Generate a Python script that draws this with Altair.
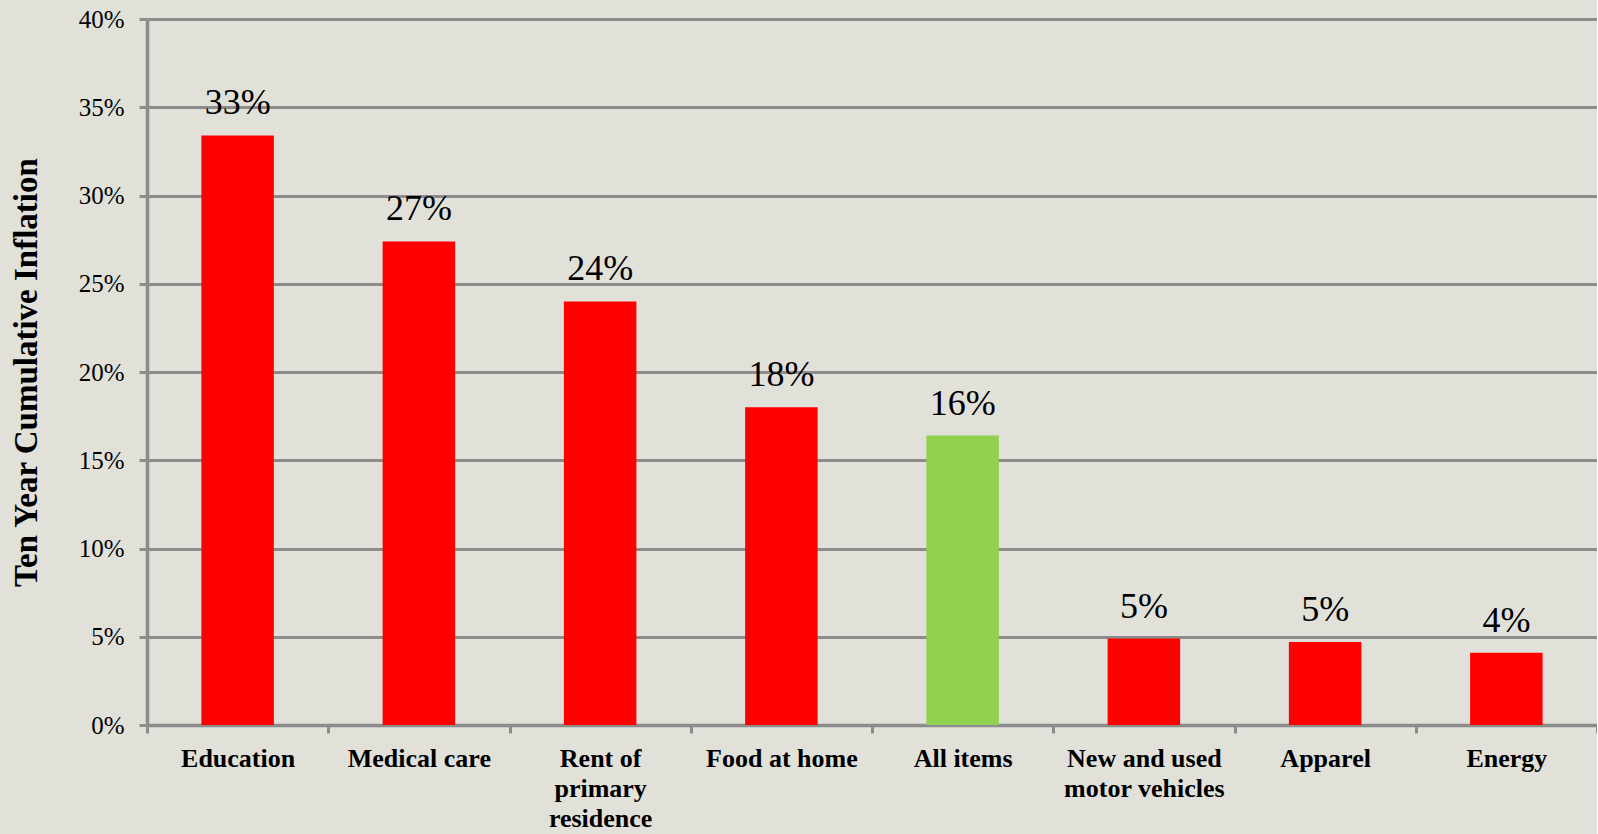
import altair as alt
import pandas as pd

# ---- data ----
categories = [
    "Education",
    "Medical care",
    "Rent of|primary|residence",
    "Food at home",
    "All items",
    "New and used|motor vehicles",
    "Apparel",
    "Energy",
]
values = [0.334, 0.274, 0.240, 0.180, 0.164, 0.049, 0.047, 0.041]
kinds = ["Component", "Component", "Component", "Component",
         "All items", "Component", "Component", "Component"]
y_ticks = [0, 0.05, 0.10, 0.15, 0.20, 0.25, 0.30, 0.35, 0.40]

df = pd.DataFrame({"category": categories, "value": values, "kind": kinds})

GRID = "#8c8c8c"
FONT = "Liberation Serif"

x_enc = alt.X(
    "category:N",
    sort=None,
    scale=alt.Scale(paddingInner=0, paddingOuter=0),
    axis=alt.Axis(
        title=None,
        labelAngle=0,
        tickBand="extent",
        labelExpr="split(datum.label, '|')",
        labelFont=FONT,
        labelFontWeight="bold",
        labelFontSize=26,
        labelColor="black",
        labelLineHeight=30,
        labelPadding=12,
        labelLimit=400,
        labelOverlap=False,
        tickSize=8,
        tickWidth=3,
        tickColor=GRID,
        domainColor=GRID,
        domainWidth=3.5,
        grid=False,
    ),
)

y_enc = alt.Y(
    "value:Q",
    scale=alt.Scale(domain=[0, 0.4], nice=False),
    axis=alt.Axis(
        title="Ten Year Cumulative Inflation",
        values=y_ticks,
        format=".0%",
        labelFont=FONT,
        labelFontSize=25,
        labelColor="black",
        labelPadding=15,
        tickSize=8,
        tickWidth=3,
        tickColor=GRID,
        domainColor=GRID,
        domainWidth=3.5,
        grid=True,
        gridColor=GRID,
        gridWidth=3,
        gridOpacity=1,
        titleFont=FONT,
        titleFontWeight="bold",
        titleFontSize=33,
        titleColor="black",
        titleAngle=270,
        titleX=-121,
        titleY=353,
        titleAlign="center",
        titleBaseline="middle",
    ),
)

bars = alt.Chart(df).mark_bar(width={"band": 0.4}).encode(
    x=x_enc,
    y=y_enc,
    color=alt.Color(
        "kind:N",
        scale=alt.Scale(domain=["Component", "All items"], range=["#ff0000", "#92d050"]),
        legend=None,
    ),
)

labels = alt.Chart(df).mark_text(
    font=FONT, fontSize=36, color="black", baseline="alphabetic", dy=-21
).encode(
    x=alt.X("category:N", sort=None),
    y=alt.Y("value:Q"),
    text=alt.Text("value:Q", format=".0%"),
)

chart = (
    alt.layer(bars, labels)
    .properties(
        width=1450,
        height=706,
        background="#e1e1da",
        autosize=alt.AutoSizeParams(type="none"),
        padding={"left": 147, "top": 19, "right": 0, "bottom": 109},
    )
    .configure(font=FONT)
    .configure_view(stroke=None)
)

chart.save("out.html", embed_options={"renderer": "svg", "actions": False})
